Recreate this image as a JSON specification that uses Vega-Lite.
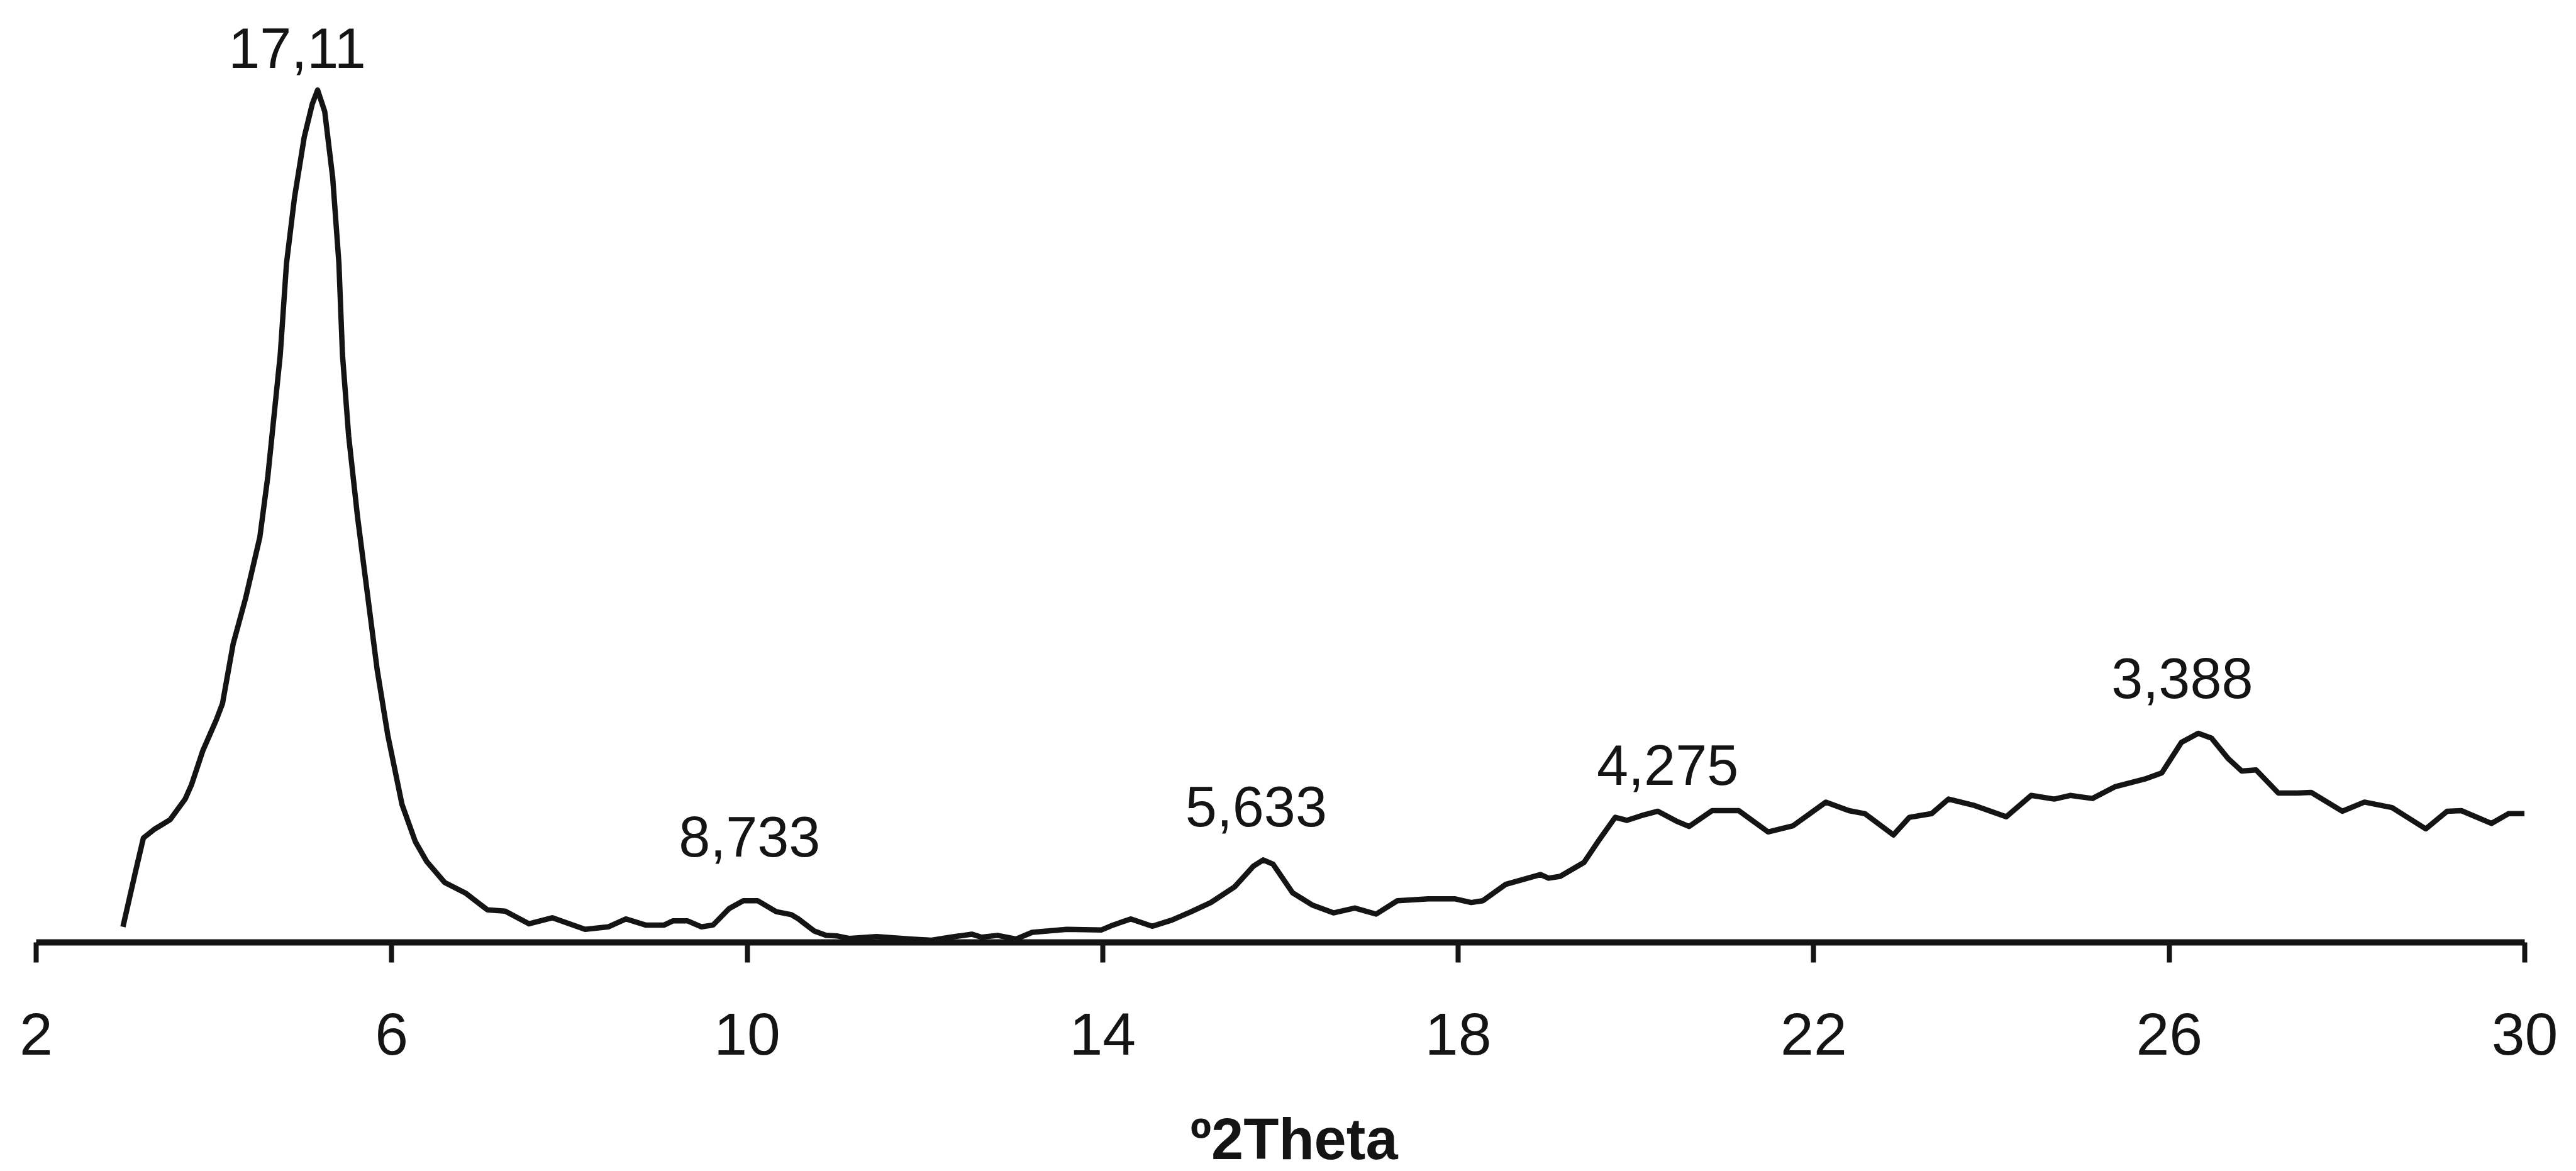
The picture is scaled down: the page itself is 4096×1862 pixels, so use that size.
{
  "$schema": "https://vega.github.io/schema/vega-lite/v6.json",
  "autosize": {"type": "none"},
  "width": 3957,
  "height": 1498,
  "padding": {"left": 57, "top": 0, "right": 82, "bottom": 364},
  "background": "white",
  "config": {"view": {"stroke": null}},
  "datasets": {
    "xrd": [
      {"theta": 2.98, "intensity": 25}, {"theta": 3.12, "intensity": 115}, {"theta": 3.21, "intensity": 171},
      {"theta": 3.33, "intensity": 185}, {"theta": 3.51, "intensity": 201}, {"theta": 3.68, "intensity": 235},
      {"theta": 3.75, "intensity": 258}, {"theta": 3.88, "intensity": 315}, {"theta": 4.03, "intensity": 365},
      {"theta": 4.10, "intensity": 392}, {"theta": 4.22, "intensity": 490}, {"theta": 4.36, "intensity": 565},
      {"theta": 4.52, "intensity": 665}, {"theta": 4.61, "intensity": 765}, {"theta": 4.68, "intensity": 865},
      {"theta": 4.75, "intensity": 965}, {"theta": 4.82, "intensity": 1115}, {"theta": 4.91, "intensity": 1223},
      {"theta": 5.02, "intensity": 1323}, {"theta": 5.11, "intensity": 1377}, {"theta": 5.17, "intensity": 1400},
      {"theta": 5.25, "intensity": 1365}, {"theta": 5.34, "intensity": 1256}, {"theta": 5.41, "intensity": 1115},
      {"theta": 5.45, "intensity": 965}, {"theta": 5.52, "intensity": 831}, {"theta": 5.62, "intensity": 698},
      {"theta": 5.73, "intensity": 573}, {"theta": 5.84, "intensity": 448}, {"theta": 5.96, "intensity": 340},
      {"theta": 6.12, "intensity": 226}, {"theta": 6.27, "intensity": 165}, {"theta": 6.40, "intensity": 132},
      {"theta": 6.60, "intensity": 98}, {"theta": 6.84, "intensity": 80}, {"theta": 7.08, "intensity": 53},
      {"theta": 7.28, "intensity": 51}, {"theta": 7.55, "intensity": 30}, {"theta": 7.81, "intensity": 40},
      {"theta": 8.18, "intensity": 21}, {"theta": 8.44, "intensity": 25}, {"theta": 8.64, "intensity": 38},
      {"theta": 8.86, "intensity": 28}, {"theta": 9.07, "intensity": 28}, {"theta": 9.17, "intensity": 35},
      {"theta": 9.33, "intensity": 35}, {"theta": 9.49, "intensity": 25}, {"theta": 9.62, "intensity": 28},
      {"theta": 9.80, "intensity": 55}, {"theta": 9.96, "intensity": 68}, {"theta": 10.12, "intensity": 68},
      {"theta": 10.33, "intensity": 50}, {"theta": 10.50, "intensity": 45}, {"theta": 10.58, "intensity": 38},
      {"theta": 10.76, "intensity": 18}, {"theta": 10.89, "intensity": 11}, {"theta": 11.02, "intensity": 10},
      {"theta": 11.15, "intensity": 6}, {"theta": 11.46, "intensity": 9}, {"theta": 11.85, "intensity": 5},
      {"theta": 12.07, "intensity": 3}, {"theta": 12.29, "intensity": 8}, {"theta": 12.53, "intensity": 13},
      {"theta": 12.64, "intensity": 8}, {"theta": 12.82, "intensity": 11}, {"theta": 13.03, "intensity": 5},
      {"theta": 13.21, "intensity": 16}, {"theta": 13.60, "intensity": 21}, {"theta": 13.99, "intensity": 20},
      {"theta": 14.12, "intensity": 28}, {"theta": 14.32, "intensity": 38}, {"theta": 14.56, "intensity": 26},
      {"theta": 14.78, "intensity": 36}, {"theta": 15.00, "intensity": 50}, {"theta": 15.22, "intensity": 65},
      {"theta": 15.49, "intensity": 91}, {"theta": 15.70, "intensity": 125}, {"theta": 15.81, "intensity": 135},
      {"theta": 15.92, "intensity": 128}, {"theta": 16.14, "intensity": 81}, {"theta": 16.36, "intensity": 61},
      {"theta": 16.60, "intensity": 48}, {"theta": 16.84, "intensity": 56}, {"theta": 17.08, "intensity": 46},
      {"theta": 17.32, "intensity": 68}, {"theta": 17.67, "intensity": 71}, {"theta": 17.97, "intensity": 71},
      {"theta": 18.15, "intensity": 65}, {"theta": 18.28, "intensity": 68}, {"theta": 18.54, "intensity": 95},
      {"theta": 18.93, "intensity": 111}, {"theta": 19.02, "intensity": 105}, {"theta": 19.15, "intensity": 108},
      {"theta": 19.42, "intensity": 131}, {"theta": 19.59, "intensity": 168}, {"theta": 19.77, "intensity": 205},
      {"theta": 19.90, "intensity": 200}, {"theta": 20.07, "intensity": 208}, {"theta": 20.25, "intensity": 215},
      {"theta": 20.47, "intensity": 198}, {"theta": 20.60, "intensity": 190}, {"theta": 20.86, "intensity": 216},
      {"theta": 21.16, "intensity": 216}, {"theta": 21.49, "intensity": 181}, {"theta": 21.77, "intensity": 191},
      {"theta": 22.14, "intensity": 230}, {"theta": 22.40, "intensity": 216}, {"theta": 22.58, "intensity": 211},
      {"theta": 22.90, "intensity": 176}, {"theta": 23.08, "intensity": 205}, {"theta": 23.33, "intensity": 211},
      {"theta": 23.52, "intensity": 235}, {"theta": 23.80, "intensity": 225}, {"theta": 24.17, "intensity": 206},
      {"theta": 24.45, "intensity": 241}, {"theta": 24.71, "intensity": 235}, {"theta": 24.89, "intensity": 241},
      {"theta": 25.14, "intensity": 236}, {"theta": 25.39, "intensity": 255}, {"theta": 25.73, "intensity": 268},
      {"theta": 25.92, "intensity": 278}, {"theta": 26.14, "intensity": 328}, {"theta": 26.33, "intensity": 343},
      {"theta": 26.48, "intensity": 335}, {"theta": 26.67, "intensity": 301}, {"theta": 26.82, "intensity": 281},
      {"theta": 26.98, "intensity": 283}, {"theta": 27.23, "intensity": 245}, {"theta": 27.45, "intensity": 245},
      {"theta": 27.60, "intensity": 246}, {"theta": 27.95, "intensity": 215}, {"theta": 28.20, "intensity": 230},
      {"theta": 28.51, "intensity": 221}, {"theta": 28.89, "intensity": 186}, {"theta": 29.13, "intensity": 215},
      {"theta": 29.29, "intensity": 216}, {"theta": 29.63, "intensity": 195}, {"theta": 29.82, "intensity": 211},
      {"theta": 30.00, "intensity": 211}
    ],
    "peaks": [
      {"theta": 4.94, "intensity": 1436, "d": "17,11"},
      {"theta": 10.03, "intensity": 141, "d": "8,733"},
      {"theta": 15.73, "intensity": 190, "d": "5,633"},
      {"theta": 20.36, "intensity": 258, "d": "4,275"},
      {"theta": 26.15, "intensity": 401, "d": "3,388"}
    ]
  },
  "layer": [
    {
      "data": {"name": "xrd"},
      "mark": {"type": "line", "color": "#141414", "strokeWidth": 8.5, "strokeJoin": "round", "strokeCap": "butt", "clip": false},
      "encoding": {
        "x": {
          "field": "theta", "type": "quantitative",
          "scale": {"domain": [2, 30], "nice": false, "zero": false},
          "axis": {
            "values": [2, 6, 10, 14, 18, 22, 26, 30],
            "format": "d",
            "title": "º2Theta",
            "grid": false,
            "domainColor": "#141414", "domainWidth": 10,
            "tickColor": "#141414", "tickWidth": 8, "tickSize": 32,
            "labelFont": "Liberation Sans", "labelFontSize": 95, "labelColor": "#141414",
            "labelBaseline": "alphabetic", "labelPadding": 146, "labelFlush": false,
            "titleFont": "Liberation Sans", "titleFontSize": 92, "titleFontWeight": "bold", "titleColor": "#141414",
            "titleBaseline": "alphabetic", "titleY": 344, "titleX": 2000, "titleAlign": "center"
          }
        },
        "y": {
          "field": "intensity", "type": "quantitative",
          "scale": {"domain": [0, 1548], "nice": false, "zero": true},
          "axis": null
        }
      }
    },
    {
      "data": {"name": "peaks"},
      "mark": {"type": "text", "font": "Liberation Sans", "fontSize": 90, "color": "#141414", "align": "center", "baseline": "alphabetic"},
      "encoding": {
        "x": {"field": "theta", "type": "quantitative"},
        "y": {"field": "intensity", "type": "quantitative"},
        "text": {"field": "d", "type": "nominal"}
      }
    }
  ]
}
